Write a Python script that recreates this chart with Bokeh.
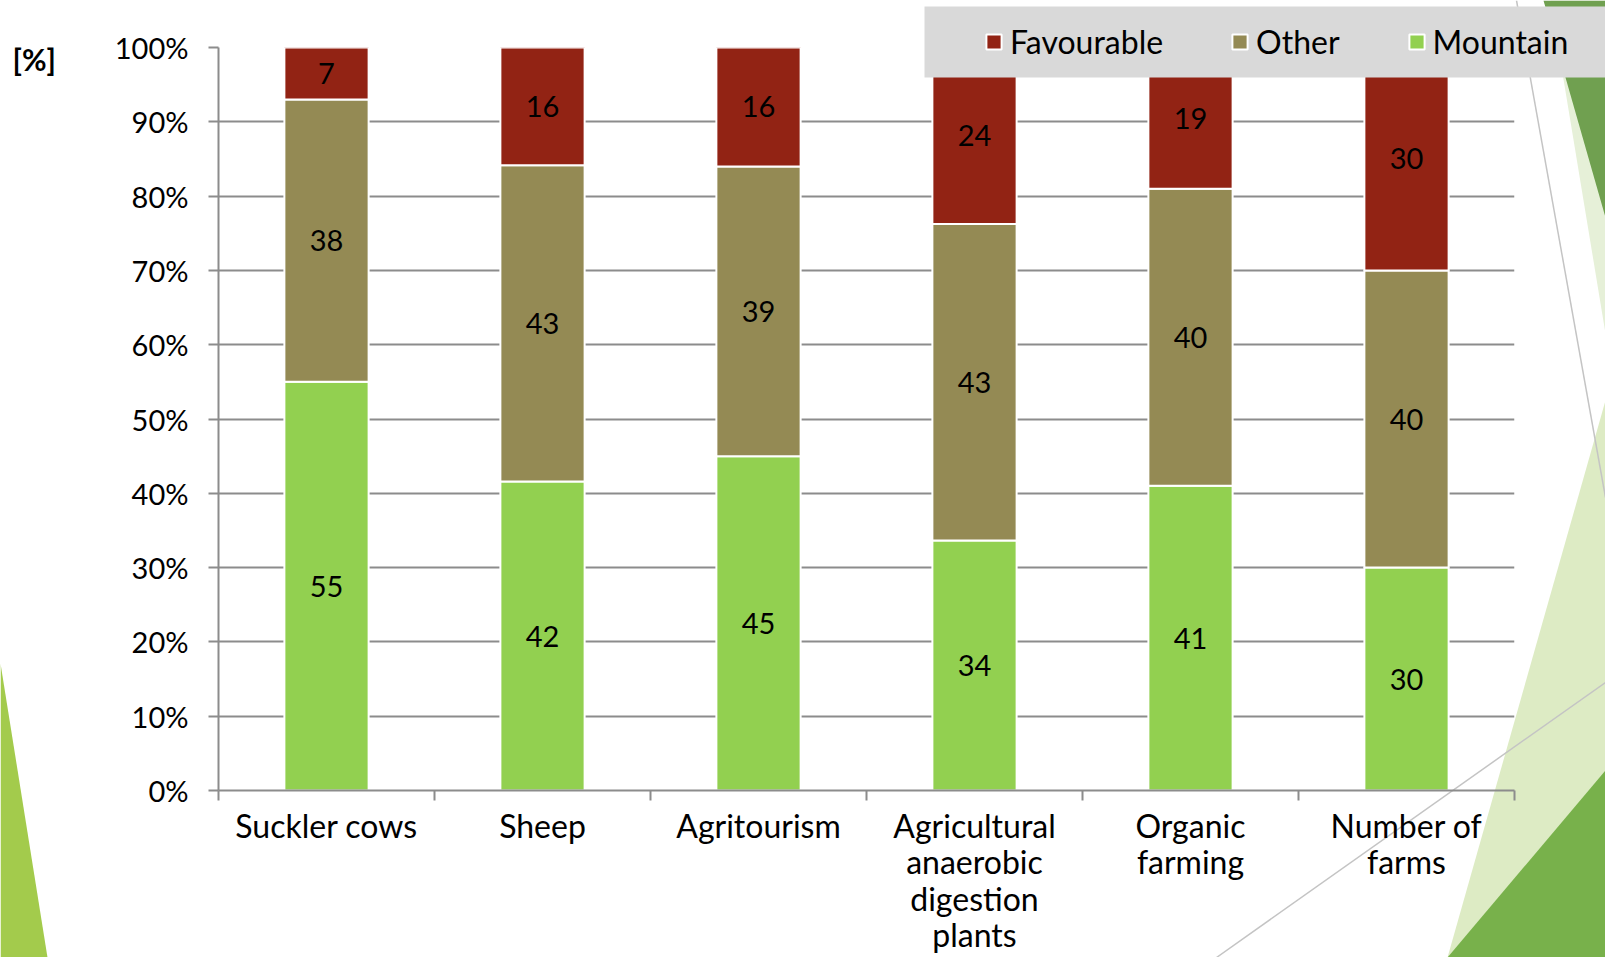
from bokeh.plotting import figure
from bokeh.models import (FixedTicker, Legend, LegendItem, Range1d, ColumnDataSource)
from bokeh.core.properties import value
from bokeh.embed import file_html
from bokeh.resources import INLINE

# ---------------- data ----------------
categories = ["Suckler cows", "Sheep", "Agritourism",
              "Agricultural\nanaerobic\ndigestion\nplants",
              "Organic\nfarming", "Number of\nfarms"]
mountain = [55, 42, 45, 34, 41, 30]
other = [38, 43, 39, 43, 40, 40]
favourable = [7, 16, 16, 24, 19, 30]
series_names = ["Mountain", "Other", "Favourable"]
series_colors = ["#92D050", "#948A54", "#922314"]
y_ticks = [0, 10, 20, 30, 40, 50, 60, 70, 80, 90, 100]
y_tick_labels = ["0%", "10%", "20%", "30%", "40%", "50%", "60%", "70%", "80%", "90%", "100%"]
unit_label = "[%]"

# ---------------- page layout ----------------
W, H = 1605, 957
FL, FR, FT, FB = 218, 1514, 47, 790      # plot frame edges (page px)
LEG_BOX = (924, 1605, 6, 77)             # legend band: left, right, top, bottom
FONT = "Lato"
GRID = "#8C8C8C"
BAND = "#D9D9D9"
ABS = {"position": "absolute", "left": "0px", "top": "0px"}


def page_figure(z, fill):
    f = figure(width=W, height=H, output_backend="svg", toolbar_location=None,
               x_range=Range1d(0, W), y_range=Range1d(H, 0),
               x_axis_location=None, y_axis_location=None,
               min_border=0, min_border_left=0, min_border_right=0,
               min_border_top=0, min_border_bottom=0,
               background_fill_color=fill, border_fill_color=fill,
               styles=dict(ABS, **{"z-index": str(z)}))
    f.grid.visible = False
    f.outline_line_color = None
    return f


# ---------------- slide background (theme shapes) ----------------
bg = page_figure(0, "white")
decor_shapes = [
    ([0, 47, 0], [663, 957, 957], "#A3CB4C"),
    ([1550, 1605, 1605], [0, 0, 333], "#E6F0D8"),
    ([1543, 1605, 1605], [0, 0, 217], "#70A050"),
    ([1447, 1605, 1605], [957, 400, 957], "#DDEBC4"),
    ([1447, 1605, 1605], [957, 770, 957], "#78B14B"),
]
decor_lines = [([1516, 1605], [0, 497]), ([1216, 1605], [957, 682])]
bg.patches(xs=[s[0] for s in decor_shapes], ys=[s[1] for s in decor_shapes],
           fill_color=[s[2] for s in decor_shapes], line_color=None)
bg.multi_line(xs=[l[0] for l in decor_lines], ys=[l[1] for l in decor_lines],
              line_color="#C4C4C4", line_width=1.5)
bg.text(x=[12], y=[58], text=[unit_label], text_font=value(FONT),
        text_font_size="30px", text_font_style="bold", text_baseline="middle",
        text_color="black")

# ---------------- chart ----------------
n = len(categories)
p = figure(width=W, height=H, output_backend="svg", toolbar_location=None,
           x_range=Range1d(0, n), y_range=Range1d(0, 100),
           min_border_left=FL, min_border_right=W - FR,
           min_border_top=FT, min_border_bottom=H - FB,
           background_fill_color=None, border_fill_color=None,
           styles=dict(ABS, **{"z-index": "1"}))
p.outline_line_color = None

xs = [i + 0.5 for i in range(n)]
totals = [m + o + f for m, o, f in zip(mountain, other, favourable)]
raw = {"Mountain": mountain, "Other": other, "Favourable": favourable}
data = {"x": xs}
for name in series_names:
    data[name] = [100.0 * v / t for v, t in zip(raw[name], totals)]
source = ColumnDataSource(data)

renderers = p.vbar_stack(series_names, x="x", width=0.39, source=source,
                         fill_color=series_colors, line_color="white", line_width=2)

# value labels in the middle of each segment
lx, ly, lt = [], [], []
bottoms = [0.0] * n
for name in series_names:
    for i, (share, v) in enumerate(zip(data[name], raw[name])):
        lx.append(xs[i])
        ly.append(bottoms[i] + share / 2)
        lt.append(str(v))
        bottoms[i] += share
p.text(x=lx, y=ly, text=lt, text_align="center", text_baseline="middle",
       text_font=value(FONT), text_font_size="29px", text_color="black")

# axes & grid
p.xgrid.visible = False
p.ygrid.ticker = FixedTicker(ticks=y_ticks)
p.ygrid.grid_line_color = GRID
p.ygrid.grid_line_width = 2

yax = p.yaxis[0]
yax.ticker = FixedTicker(ticks=y_ticks)
yax.major_label_overrides = {t: l for t, l in zip(y_ticks, y_tick_labels)}
yax.axis_line_color = GRID
yax.axis_line_width = 2
yax.major_tick_line_color = GRID
yax.major_tick_line_width = 2
yax.major_tick_out = 10
yax.major_tick_in = 0
yax.minor_tick_line_color = None
yax.major_label_standoff = 20
yax.major_label_text_font = FONT
yax.major_label_text_font_size = "29px"
yax.major_label_text_color = "black"

xax = p.xaxis[0]
xax.ticker = FixedTicker(ticks=xs, minor_ticks=list(range(n + 1)))
xax.major_label_overrides = {x: c for x, c in zip(xs, categories)}
xax.axis_line_color = GRID
xax.axis_line_width = 2
xax.major_tick_line_color = None
xax.minor_tick_line_color = GRID
xax.minor_tick_line_width = 2
xax.minor_tick_out = 10
xax.minor_tick_in = 0
xax.major_label_standoff = 5
xax.major_label_text_font = FONT
xax.major_label_text_font_size = "32px"
xax.major_label_text_color = "black"
xax.major_label_text_line_height = 0.94

# ---------------- legend band (drawn over the bar tops) ----------------
top = page_figure(2, None)
top.quad(left=[LEG_BOX[0]], right=[LEG_BOX[1]], top=[LEG_BOX[2]], bottom=[LEG_BOX[3]],
         fill_color=BAND, line_color=None)
# legend keys: zero-height bars parked left of the page, styled like the series
key_src = ColumnDataSource(dict(x=[-W], y=[0]))
keys = [top.vbar(x="x", top="y", bottom="y", width=1, source=key_src,
                 fill_color=c, line_color="white", line_width=2)
        for c in series_colors]
legend = Legend(items=[LegendItem(label=nm, renderers=[r])
                       for nm, r in reversed(list(zip(series_names, keys)))],
                orientation="horizontal", location=(984, H - 61),
                label_text_font=FONT, label_text_font_size="32px",
                label_text_color="black", label_height=40,
                glyph_width=19, glyph_height=19, label_standoff=7, spacing=67,
                padding=0, margin=0, background_fill_alpha=0, border_line_alpha=0)
top.add_layout(legend, "center")

open("out.html", "w").write(file_html([bg, p, top], INLINE))
